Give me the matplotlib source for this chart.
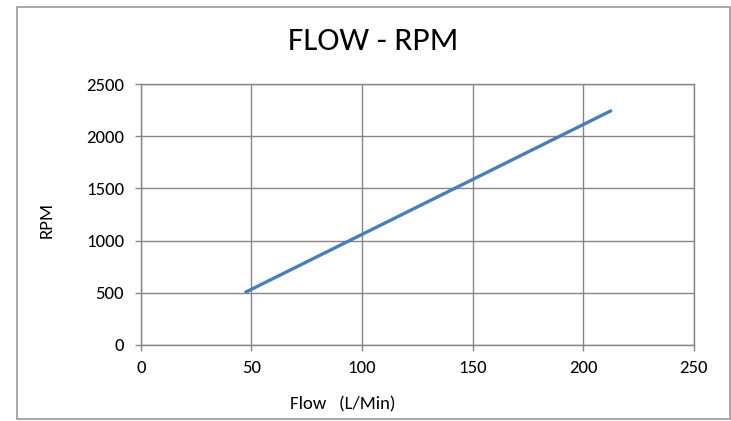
import matplotlib
matplotlib.use("Agg")
import matplotlib.pyplot as plt
from matplotlib.patches import Rectangle

flow = [47, 213]
rpm = [500, 2250]
x_ticks = [0, 50, 100, 150, 200, 250]
y_ticks = [0, 500, 1000, 1500, 2000, 2500]
title = "FLOW - RPM"
x_label = "Flow   (L/Min)"
y_label = "RPM"

plt.rcParams['font.family'] = ['Carlito', 'DejaVu Sans']

W, H = 731, 421
fig = plt.figure(figsize=(W / 100, H / 100), dpi=100)
fig.patch.set_facecolor('white')

# outer frame
fig.patches.append(Rectangle((16.7 / W, 1 - 419 / H), (730.3 - 16.7) / W, (419 - 7) / H,
                             transform=fig.transFigure, fill=False,
                             edgecolor='#9a9a9a', linewidth=1.2))

ax = fig.add_axes([140.8 / W, 1 - 344.7 / H, (693.7 - 140.8) / W, (344.7 - 84.3) / H])
ax.plot(flow, rpm, color='#4A7EBB', linewidth=2.4, solid_capstyle='butt')
ax.set_xlim(0, 250)
ax.set_ylim(0, 2500)
ax.set_xticks(x_ticks)
ax.set_yticks(y_ticks)
ax.grid(True, color='#868686', linewidth=1.0)
ax.set_axisbelow(True)
for s in ax.spines.values():
    s.set_color('#868686')
    s.set_linewidth(1.0)
ax.tick_params(axis='both', colors='#868686', labelcolor='black', labelsize=13.5,
               length=4, width=1.0, direction='out')
ax.tick_params(axis='x', pad=7)
ax.tick_params(axis='y', pad=8)

fig.text(373.5 / W, 1 - 41 / H, title, ha='center', va='center', fontsize=24)
fig.text(343 / W, 1 - 404 / H, x_label, ha='center', va='center', fontsize=13.5)
fig.text(47 / W, 1 - 220 / H, y_label, ha='center', va='center', rotation=90, fontsize=13.5)

fig.savefig('out.png', dpi=100)
